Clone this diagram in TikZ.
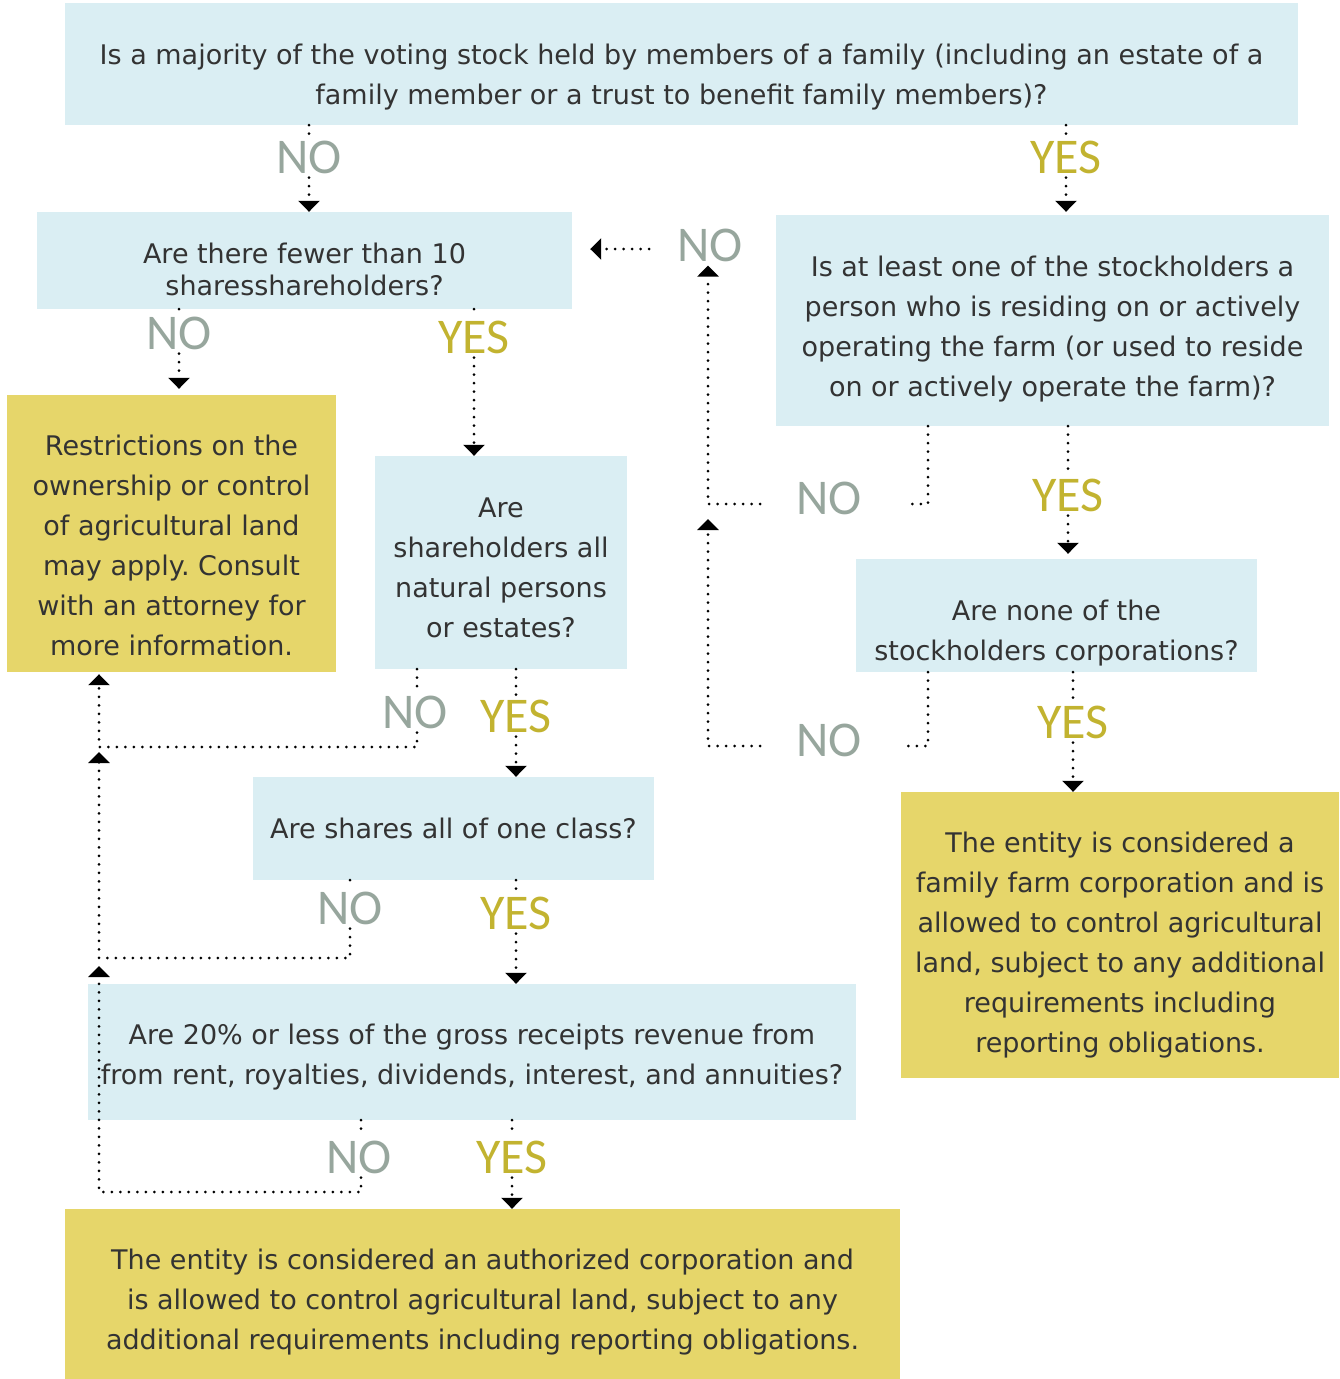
\documentclass[tikz,border=0pt]{standalone}
\usepackage{fontspec}
\setmainfont{DejaVu Sans}
\newfontfamily\answerfont{Carlito}
\usetikzlibrary{arrows.meta}
\frenchspacing

\definecolor{qblue}{HTML}{DAEEF3}
\definecolor{resultyellow}{HTML}{E6D66A}
\definecolor{nogray}{HTML}{97A69D}
\definecolor{yesgold}{HTML}{C2B330}
\definecolor{txtgray}{HTML}{333333}

% push a text block down by #1 inside its box
\newcommand{\pushdown}[1]{\rule{0pt}{\the\numexpr 20+2*#1\relax pt}}

\tikzset{
  question/.style={fill=qblue, text=txtgray, align=center, inner sep=0pt,
    font=\fontsize{27}{40}\selectfont},
  result/.style={question, fill=resultyellow},
  link/.style={line width=3pt, dash pattern=on 0pt off 8.5pt, line cap=round},
  flow/.style={link, -{Triangle[width=21pt,length=11pt]}},
  nolabel/.style={text=nogray, inner sep=4pt, font=\answerfont\fontsize{50}{50}\selectfont},
  yeslabel/.style={nolabel, text=yesgold},
}

\begin{document}
\begin{tikzpicture}[x=1pt, y=-1pt]
  \useasboundingbox (0,0) rectangle (1339,1379);

  % Questions
  \node[question, minimum width=1233, minimum height=122] (family) at (681.5,64)
    {\pushdown{13}Is a majority of the voting stock held by members of a family (including an estate of a\\
     family member or a trust to benefit family members)?};
  \node[question, minimum width=535, minimum height=97, font=\fontsize{27}{32}\selectfont] (fewer) at (304.5,260.5)
    {\pushdown{9}Are there fewer than 10\\ sharesshareholders?};
  \node[question, minimum width=553, minimum height=211] (residing) at (1052.5,320.5)
    {\pushdown{9}Is at least one of the stockholders a\\ person who is residing on or actively\\
     operating the farm (or used to reside\\ on or actively operate the farm)?};
  \node[question, minimum width=252, minimum height=213] (natural) at (501,562.5)
    {\pushdown{5}Are\\ shareholders all\\ natural persons\\ or estates?};
  \node[question, minimum width=401, minimum height=113] (nocorp) at (1056.5,615.5)
    {\pushdown{18}Are none of the\\ stockholders corporations?};
  \node[question, minimum width=401, minimum height=103] (oneclass) at (453.5,828.5)
    {Are shares all of one class?};
  \node[question, minimum width=768, minimum height=136] (receipts) at (472,1052)
    {\pushdown{5}Are 20\% or less of the gross receipts revenue from\\
     from rent, royalties, dividends, interest, and annuities?};

  % Results
  \node[result, minimum width=329, minimum height=277] (restrict) at (171.5,533.5)
    {\pushdown{12}Restrictions on the\\ ownership or control\\ of agricultural land\\
     may apply. Consult\\ with an attorney for\\ more information.};
  \node[result, minimum width=438, minimum height=286] (familyfarm) at (1120,935)
    {\pushdown{10}The entity is considered a\\ family farm corporation and is\\
     allowed to control agricultural\\ land, subject to any additional\\
     requirements including\\ reporting obligations.};
  \node[result, minimum width=835, minimum height=170] (authorized) at (482.5,1294)
    {\pushdown{8}The entity is considered an authorized corporation and\\
     is allowed to control agricultural land, subject to any\\
     additional requirements including reporting obligations.};

  % Answer labels
  \node[nolabel]  (famno)   at (309,157)  {NO};
  \node[yeslabel] (famyes)  at (1066,157) {YES};
  \node[nolabel]  (fewno)   at (179,333)  {NO};
  \node[yeslabel] (fewyes)  at (474,337)  {YES};
  \node[nolabel]  (resno)   at (829,498)  {NO};
  \node[yeslabel] (resyes)  at (1068,495) {YES};
  \node[nolabel]  (backno)  at (710,245)  {NO};
  \node[nolabel]  (corpno)  at (829,740)  {NO};
  \node[yeslabel] (corpyes) at (1073,722) {YES};
  \node[nolabel]  (natno)   at (415,712)  {NO};
  \node[yeslabel] (natyes)  at (516,716)  {YES};
  \node[nolabel]  (classno) at (350,908)  {NO};
  \node[yeslabel] (classyes) at (516,913) {YES};
  \node[nolabel]  (recno)   at (359,1157) {NO};
  \node[yeslabel] (recyes)  at (512,1157) {YES};

  % Elbows
  \coordinate (resturn)  at (928,504);
  \coordinate (resjoin)  at (708,504);
  \coordinate (corpturn) at (928,746);
  \coordinate (corpjoin) at (708,746);
  \coordinate (natturn)  at (417,747);
  \coordinate (leftjoin) at (99,747);
  \coordinate (classturn) at (350,958);
  \coordinate (classjoin) at (99,958);
  \coordinate (recturn)  at (361,1192);
  \coordinate (recjoin)  at (99,1192);

  % Family question
  \draw[link] (family.south -| famno) -- (famno.north);
  \draw[flow] (famno.south) -- (fewer.north -| famno);
  \draw[link] (family.south -| famyes) -- (famyes.north);
  \draw[flow, shorten >=3pt] (famyes.south) -- (residing.north -| famyes);

  % Fewer than 10
  \draw[link] (fewer.south -| fewno) -- (fewno.north);
  \draw[flow, shorten >=6pt] (fewno.south) -- (restrict.north -| fewno);
  \draw[link] (fewer.south -| fewyes) -- (fewyes.north);
  \draw[flow] (fewyes.south) -- (natural.north -| fewyes);

  % Residing on the farm
  \draw[link, shorten >=38pt] (residing.south -| resturn) -- (resturn) -- (resno.east |- resturn);
  \draw[flow, shorten <=32pt] (resno.west |- resjoin) -- (resjoin) -- (resjoin |- backno.south);
  \draw[flow, shorten <=24pt, shorten >=18pt] (backno.west |- 0,249) -- (fewer.east |- 0,249);
  \draw[link] (residing.south -| resyes) -- (resyes.north);
  \draw[flow, shorten >=5pt] (resyes.south) -- (nocorp.north -| resyes);

  % No corporations
  \draw[link, shorten >=38pt] (nocorp.south -| corpturn) -- (corpturn) -- (corpno.east |- corpturn);
  \draw[flow, shorten <=32pt, shorten >=15pt] (corpno.west |- corpjoin) -- (corpjoin) -- (resjoin);
  \draw[link] (nocorp.south -| corpyes) -- (corpyes.north);
  \draw[flow] (corpyes.south) -- (familyfarm.north -| corpyes);

  % Natural persons
  \draw[link] (natural.south -| natturn) -- (natno.north -| natturn);
  \draw[flow, shorten >=2pt] (natno.south -| natturn) -- (natturn) -- (leftjoin) -- (restrict.south -| leftjoin);
  \draw[link] (natural.south -| natyes) -- (natyes.north);
  \draw[flow] (natyes.south) -- (oneclass.north -| natyes);

  % One class
  \draw[link] (oneclass.south -| classturn) -- (classno.north);
  \draw[flow, shorten >=5pt] (classno.south) -- (classturn) -- (classjoin) -- (leftjoin);
  \draw[link] (oneclass.south -| classyes) -- (classyes.north);
  \draw[flow] (classyes.south) -- (receipts.north -| classyes);

  % Receipts
  \draw[link] (receipts.south -| recturn) -- (recno.north -| recturn);
  \draw[flow, shorten >=8pt] (recno.south -| recturn) -- (recturn) -- (recjoin) -- (classjoin);
  \draw[link] (receipts.south -| recyes) -- (recyes.north);
  \draw[flow] (recyes.south) -- (authorized.north -| recyes);
\end{tikzpicture}
\end{document}
